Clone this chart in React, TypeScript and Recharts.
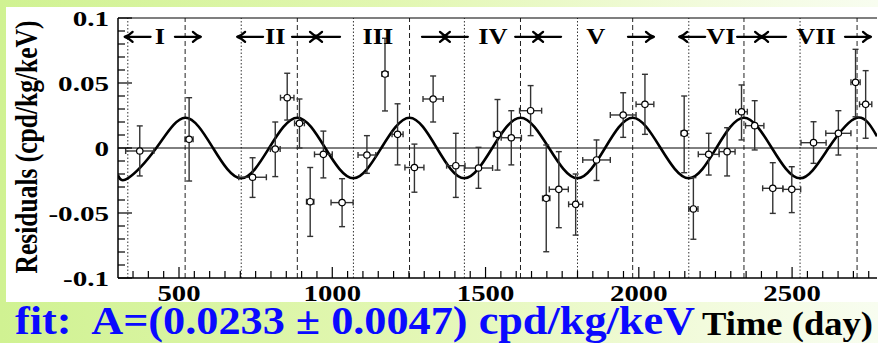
import React from 'react';
import { ComposedChart, XAxis, YAxis, Scatter, Line, ErrorBar, ReferenceLine } from 'recharts';

// ---- data ----
const days = [372, 533, 740, 814, 853, 893, 928, 971, 1032, 1113, 1172, 1213, 1268, 1329, 1403, 1477, 1539, 1584, 1647, 1698, 1739, 1794, 1862, 1949, 2020, 2148, 2178, 2228, 2288, 2335, 2378, 2437, 2499, 2570, 2651, 2707, 2740];
const residuals = [-0.0023, 0.0067, -0.0225, -0.0008, 0.0387, 0.019, -0.0413, -0.0049, -0.042, -0.0054, 0.0569, 0.0105, -0.015, 0.0377, -0.0136, -0.0154, 0.0105, 0.0079, 0.0287, -0.0387, -0.0318, -0.0433, -0.0092, 0.0254, 0.0336, 0.0113, -0.0469, -0.0049, -0.0028, 0.0279, 0.0172, -0.031, -0.0318, 0.0041, 0.0113, 0.0505, 0.0336];
const errTop = [0.017, 0.0387, -0.0075, 0.02, 0.0575, 0.0377, -0.015, 0.013, -0.0236, 0.0095, 0.0844, 0.034, 0.003, 0.0554, 0.0113, 0.0005, 0.0373, 0.0287, 0.048, 0.0023, -0.0028, -0.02, 0.0062, 0.0425, 0.0567, 0.04, -0.0228, 0.0113, 0.0156, 0.0485, 0.0364, -0.0113, -0.0144, 0.0202, 0.0287, 0.0759, 0.0595];
const errBottom = [-0.0215, -0.0254, -0.038, -0.022, 0.0215, 0.0, -0.068, -0.023, -0.0605, -0.0195, 0.0285, -0.013, -0.034, 0.02, -0.038, -0.031, -0.017, -0.013, 0.0095, -0.0798, -0.0613, -0.067, -0.025, 0.0082, 0.0105, -0.019, -0.0702, -0.0208, -0.0215, 0.0062, -0.0015, -0.0503, -0.0497, -0.0118, -0.0054, 0.024, 0.0075];
const dayErr = [46, 13, 45, 16, 22, 16, 12, 29, 36, 29, 10, 18, 31, 33, 30, 46, 13, 33, 36, 12, 31, 23, 45, 42, 29, 10, 15, 34, 26, 19, 30, 33, 29, 41, 41, 15, 20];

// fit curve, read at its extrema and zero crossings
const fitDays = [301, 333, 426, 520, 611, 703, 794, 886, 977, 1069, 1160, 1252, 1341, 1431, 1522, 1614, 1707, 1800, 1890, 1980, 2071, 2163, 2253, 2343, 2434, 2526, 2619, 2712, 2777];
const fitValues = [-0.021, -0.0233, 0, 0.0233, 0, -0.0233, 0, 0.0233, 0, -0.0233, 0, 0.0233, 0, -0.0233, 0, 0.0233, 0, -0.0233, 0, 0.0233, 0, -0.0233, 0, 0.0233, 0, -0.0233, 0, 0.0233, 0.009];

// vertical markers
const dashedDays = [520, 886, 1252, 1614, 1980, 2343, 2712];
const dottedDays = [333, 703, 1069, 1431, 1800, 2163, 2526];

// period annotations
const annotY = 0.0855;
const romanLabels = ['I', 'II', 'III', 'IV', 'V', 'VI', 'VII'];
const romanDays = [438, 814, 1149, 1524, 1860, 2268, 2578];
const arrowDays = [365, 529, 732, 911, 983, 1335, 1400, 1639, 1704, 2007, 2174, 2363, 2438, 2715];
const arrowDirs = ['left', 'right', 'left', 'right', 'left', 'right', 'left', 'right', 'left', 'right', 'left', 'right', 'left', 'right'];

// axes
const xDomain = [301, 2777];
const yDomain = [-0.1, 0.1];
const xTicks = [350, 400, 450, 500, 550, 600, 650, 700, 750, 800, 850, 900, 950, 1000, 1050, 1100, 1150, 1200, 1250, 1300, 1350, 1400, 1450, 1500, 1550, 1600, 1650, 1700, 1750, 1800, 1850, 1900, 1950, 2000, 2050, 2100, 2150, 2200, 2250, 2300, 2350, 2400, 2450, 2500, 2550, 2600, 2650, 2700, 2750];
const xMajorLabels = ['500', '1000', '1500', '2000', '2500'];
const yTicks = [-0.1, -0.09, -0.08, -0.07, -0.06, -0.05, -0.04, -0.03, -0.02, -0.01, 0, 0.01, 0.02, 0.03, 0.04, 0.05, 0.06, 0.07, 0.08, 0.09, 0.1];
const yMajorLabels = ['-0.1', '-0.05', '0', '0.05', '0.1'];

const yTitle = 'Residuals (cpd/kg/keV)';
const xTitle = 'Time (day)';
const fitText = 'fit:  A=(0.0233 \u00B1 0.0047) cpd/kg/keV';

// ---- tables for the library ----
const points = days.map((d, i) => ({
  day: d,
  value: residuals[i],
  yErr: [residuals[i] - errBottom[i], errTop[i] - residuals[i]],
  xErr: dayErr[i],
}));
const fitData = fitDays.map((d, i) => ({ day: d, value: fitValues[i] }));
const romanData = romanDays.map((d, i) => ({ day: d, value: annotY, label: romanLabels[i] }));
const arrowData = arrowDays.map((d, i) => ({ day: d, value: annotY, dir: arrowDirs[i] }));

const SERIF = "'Liberation Serif', 'Times New Roman', serif";

const YTick = (props: any) => {
  const { x, y, payload } = props;
  const v = payload.value;
  const label = String(v);
  const major = yMajorLabels.includes(label);
  return (
    <g>
      <line x1={x} y1={y} x2={x + (major ? 14 : 7)} y2={y} stroke="#000" strokeWidth={1.2} />
      {major && (
        <text transform={`translate(${x - 9},${y + 7.5}) scale(1.42,1)`} textAnchor="end" fontFamily={SERIF} fontWeight="bold" fontSize={20.5} fill="#000">
          {label}
        </text>
      )}
    </g>
  );
};

const XTick = (props: any) => {
  const { x, y, payload } = props;
  const label = String(payload.value);
  const major = xMajorLabels.includes(label);
  return (
    <g>
      <line x1={x} y1={y} x2={x} y2={y - (major ? 11 : 7)} stroke="#000" strokeWidth={1.2} />
      {major && (
        <text transform={`translate(${x},${y + 22.5}) scale(1.25,1)`} textAnchor="middle" fontFamily={SERIF} fontWeight="bold" fontSize={23} fill="#000">
          {label}
        </text>
      )}
    </g>
  );
};

const PointShape = (props: any) => {
  const { cx, cy } = props;
  return <circle cx={cx} cy={cy} r={3.2} fill="#fff" stroke="#000" strokeWidth={1.2} />;
};

const RomanShape = (props: any) => {
  const { cx, cy, payload } = props;
  return (
    <text transform={`translate(${cx},${cy + 7.5}) scale(1.15,1)`} textAnchor="middle" fontFamily={SERIF} fontWeight="bold" fontSize={23} fill="#000">
      {payload.label}
    </text>
  );
};

const ArrowShape = (props: any) => {
  const { cx, cy, payload } = props;
  const half = 13;
  const tip = payload.dir === 'right' ? cx + half : cx - half;
  const back = payload.dir === 'right' ? tip - 8 : tip + 8;
  return (
    <g stroke="#000" strokeWidth={2.2} fill="none" strokeLinecap="round">
      <line x1={cx - half} y1={cy} x2={cx + half} y2={cy} />
      <path d={`M${back},${cy - 5} Q${(back + tip) / 2},${cy - 1} ${tip},${cy} Q${(back + tip) / 2},${cy + 1} ${back},${cy + 5}`} />
    </g>
  );
};

export default function App() {
  return (
    <div
      style={{
        position: 'relative',
        width: 878,
        height: 343,
        overflow: 'hidden',
        background: 'linear-gradient(90deg, #d0f292 0%, #e2f7b2 45%, #f2fbdc 80%, #f8fdf0 100%)',
      }}
    >
      <style>{`body{margin:0}`}</style>
      <div style={{ position: 'absolute', left: 6, top: 7, width: 872, height: 295, background: '#fff' }} />
      <div style={{ position: 'absolute', left: 0, top: 0 }}>
        <ComposedChart width={878} height={343} margin={{ top: 18, right: 1, bottom: 25, left: 0 }}>
          <XAxis
            type="number"
            dataKey="day"
            domain={xDomain}
            allowDataOverflow
            ticks={xTicks}
            interval={0}
            tickSize={0}
            tickMargin={0}
            tick={<XTick />}
            tickLine={false}
            axisLine={{ stroke: '#000', strokeWidth: 1.5 }}
            height={40}
          />
          <YAxis
            type="number"
            domain={yDomain}
            allowDataOverflow
            ticks={yTicks}
            interval={0}
            tickSize={0}
            tickMargin={0}
            tick={<YTick />}
            tickLine={false}
            axisLine={{ stroke: '#000', strokeWidth: 1.5 }}
            width={118}
          />
          {dashedDays.map((d) => (
            <ReferenceLine key={`da${d}`} x={d} stroke="#222" strokeWidth={1} strokeDasharray="5 3" />
          ))}
          {dottedDays.map((d) => (
            <ReferenceLine key={`do${d}`} x={d} stroke="#333" strokeWidth={1} strokeDasharray="1.5 2" />
          ))}
          <ReferenceLine y={0} stroke="#000" strokeWidth={1} />
          <ReferenceLine y={0.1} stroke="#000" strokeWidth={1.2} />
          <Line
            data={fitData}
            dataKey="value"
            type="natural"
            stroke="#000"
            strokeWidth={2.6}
            dot={false}
            activeDot={false}
            isAnimationActive={false}
          />
          <Scatter data={points} dataKey="value" shape={<PointShape />} isAnimationActive={false}>
            <ErrorBar dataKey="yErr" direction="y" width={3} stroke="#333" strokeWidth={1.4} isAnimationActive={false} />
            <ErrorBar dataKey="xErr" direction="x" width={3} stroke="#333" strokeWidth={1.4} isAnimationActive={false} />
          </Scatter>
          <Scatter data={romanData} dataKey="value" shape={<RomanShape />} isAnimationActive={false} />
          <Scatter data={arrowData} dataKey="value" shape={<ArrowShape />} isAnimationActive={false} />
        </ComposedChart>
      </div>
      <svg width={878} height={343} style={{ position: 'absolute', left: 0, top: 0, pointerEvents: 'none' }}>
        <text
          transform="translate(37,147) rotate(-90) scale(1,1.3)"
          textAnchor="middle"
          fontFamily={SERIF}
          fontWeight="bold"
          fontSize={25}
          fill="#000"
          textLength={253}
          lengthAdjust="spacingAndGlyphs"
        >
          {yTitle}
        </text>
        <text
          x={15}
          y={334}
          fontFamily={SERIF}
          fontWeight="bold"
          fontSize={40}
          fill="#0a0aff"
          textLength={680}
          lengthAdjust="spacingAndGlyphs"
          xmlSpace="preserve"
          style={{ whiteSpace: 'pre' }}
        >
          {fitText}
        </text>
        <text
          x={702}
          y={335}
          fontFamily={SERIF}
          fontWeight="bold"
          fontSize={34}
          fill="#000"
          textLength={171}
          lengthAdjust="spacingAndGlyphs"
        >
          {xTitle}
        </text>
      </svg>
    </div>
  );
}
